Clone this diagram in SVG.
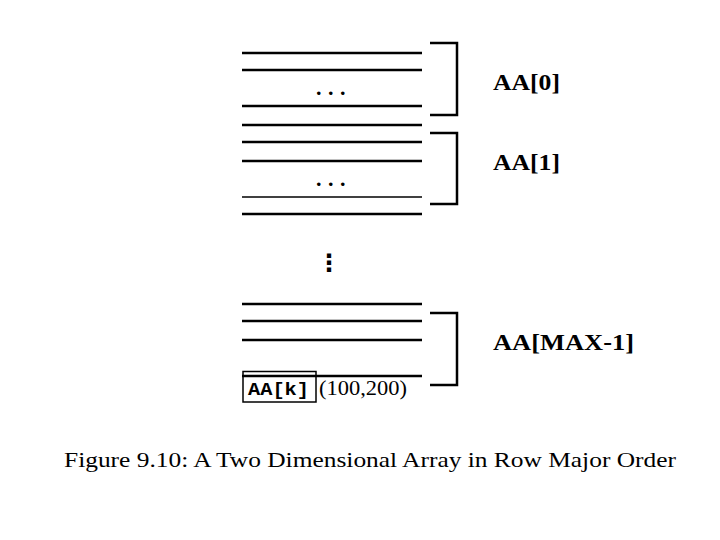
<svg xmlns="http://www.w3.org/2000/svg" width="720" height="540" viewBox="0 0 720 540">
<style>
.row{stroke:#000;stroke-width:2.5;fill:none}
.thin{stroke-width:1.7}
.br{stroke:#000;stroke-width:2.5;fill:none}
.lbl{font-family:"Liberation Serif",serif;font-weight:bold;font-size:23px;fill:#000}
.txt{font-family:"Liberation Serif",serif;font-size:22px;fill:#000}
.mono{font-family:"Liberation Mono",monospace;font-weight:bold;font-size:18px;fill:#000}
</style>
<rect width="720" height="540" fill="#fff"/>
<g id="rows">
<line class="row" x1="242" y1="53" x2="422" y2="53"/>
<line class="row" x1="242" y1="70" x2="422" y2="70"/>
<line class="row" x1="242" y1="106" x2="422" y2="106"/>
<line class="row" x1="242" y1="125" x2="422" y2="125"/>
<line class="row" x1="242" y1="142" x2="422" y2="142"/>
<line class="row" x1="242" y1="161" x2="422" y2="161"/>
<line class="row thin" x1="242" y1="197" x2="422" y2="197"/>
<line class="row" x1="242" y1="214" x2="422" y2="214"/>
<line class="row" x1="242" y1="304" x2="422" y2="304"/>
<line class="row" x1="242" y1="321" x2="422" y2="321"/>
<line class="row" x1="242" y1="340" x2="422" y2="340"/>
<line class="row" x1="242" y1="376" x2="422" y2="376"/>
</g>
<g id="dots">
<text x="316" y="95" letter-spacing="6.5" style="font-family:'Liberation Serif',serif;font-size:22px;font-weight:bold">...</text>
<text x="316" y="186" letter-spacing="6.5" style="font-family:'Liberation Serif',serif;font-size:22px;font-weight:bold">...</text>
<text x="329" y="271" text-anchor="middle" style="font-family:'DejaVu Sans',sans-serif;font-size:24px;font-weight:bold">⋮</text>
</g>
<g id="connectors">
<path class="br" d="M430 43 H457 V115 H430"/>
<path class="br" d="M430 133 H457 V204 H430"/>
<path class="br" d="M430 313 H457 V385 H430"/>
</g>
<g id="AA0"><text class="lbl" x="493" y="90" textLength="67" lengthAdjust="spacingAndGlyphs">AA[0]</text></g>
<g id="AA1"><text class="lbl" x="493" y="170" textLength="67" lengthAdjust="spacingAndGlyphs">AA[1]</text></g>
<g id="AAMAX"><text class="lbl" x="493" y="350" textLength="141" lengthAdjust="spacingAndGlyphs">AA[MAX-1]</text></g>
<g id="AAk">
<rect x="243" y="371.5" width="73" height="30.5" fill="none" stroke="#000" stroke-width="1.5"/>
<text class="mono" x="248" y="395" textLength="61" lengthAdjust="spacingAndGlyphs">AA[k]</text>
</g>
<g id="addr"><text class="txt" x="319" y="395" textLength="88" lengthAdjust="spacingAndGlyphs">(100,200)</text></g>
<g id="caption"><text class="txt" x="64" y="467" textLength="612" lengthAdjust="spacingAndGlyphs">Figure 9.10: A Two Dimensional Array in Row Major Order</text></g>
</svg>
